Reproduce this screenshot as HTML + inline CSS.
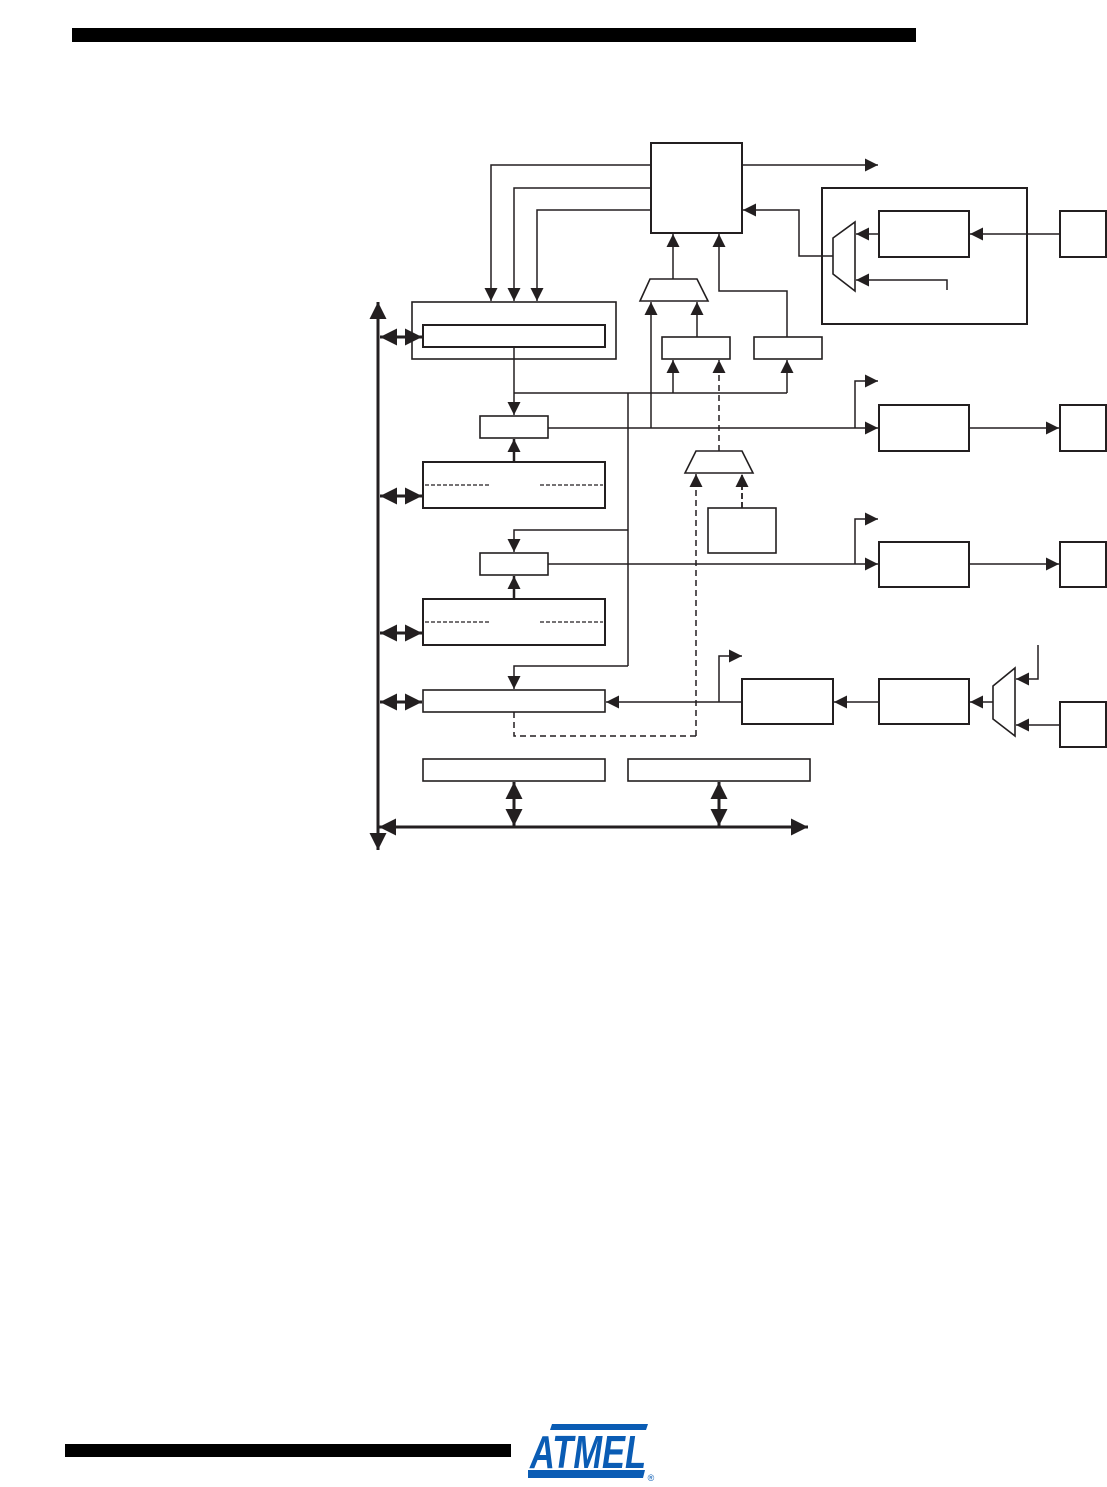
<!DOCTYPE html>
<html><head><meta charset="utf-8"><style>
html,body{margin:0;padding:0;background:#fff;}
svg{display:block;}
</style></head><body>
<svg width="1107" height="1487" viewBox="0 0 1107 1487" xmlns="http://www.w3.org/2000/svg">
<defs>
<marker id="a" viewBox="0 0 10 10" refX="10" refY="5" markerWidth="20" markerHeight="13" markerUnits="userSpaceOnUse" orient="auto-start-reverse"><path d="M0,0L10,5L0,10z" fill="#231f20"/></marker>
<marker id="b" viewBox="0 0 10 10" refX="10" refY="5" markerWidth="24" markerHeight="17" markerUnits="userSpaceOnUse" orient="auto-start-reverse"><path d="M0,0L10,5L0,10z" fill="#231f20"/></marker>
</defs>
<rect x="72" y="28" width="844" height="14" fill="#000"/>
<rect x="65" y="1444" width="446" height="13" fill="#000"/>
<g fill="none" stroke="#231f20" stroke-width="1.5">
<g stroke-width="2">
<rect x="651" y="143" width="91" height="90"/>
<rect x="822" y="188" width="205" height="136"/>
<rect x="879" y="211" width="90" height="46"/>
<rect x="1060" y="211" width="46" height="46"/>
<rect x="423" y="325" width="182" height="22"/>
<rect x="879" y="405" width="90" height="46"/>
<rect x="1060" y="405" width="46" height="46"/>
<rect x="423" y="462" width="182" height="46"/>
<rect x="879" y="542" width="90" height="45"/>
<rect x="1060" y="542" width="46" height="45"/>
<rect x="423" y="599" width="182" height="46"/>
<rect x="742" y="679" width="91" height="45"/>
<rect x="879" y="679" width="90" height="45"/>
<rect x="1060" y="702" width="46" height="45"/>
</g>
<g stroke-width="1.6">
<rect x="412" y="302" width="204" height="57"/>
<rect x="480" y="416" width="68" height="22"/>
<rect x="480" y="553" width="68" height="22"/>
<rect x="662" y="337" width="68" height="22"/>
<rect x="754" y="337" width="68" height="22"/>
<rect x="708" y="508" width="68" height="45"/>
<rect x="423" y="690" width="182" height="22"/>
<rect x="423" y="759" width="182" height="22"/>
<rect x="628" y="759" width="182" height="22"/>
<polygon points="640,301 650,279 697,279 708,301"/>
<polygon points="685,473 696,451 742,451 753,473"/>
<polygon points="833,238 855,222 855,291 833,274"/>
<polygon points="993,686 1015,668 1015,736 993,719"/>
</g>
<g stroke-dasharray="4,2" stroke-width="1.2">
<line x1="425" y1="485" x2="489" y2="485"/><line x1="540" y1="485" x2="603" y2="485"/>
<line x1="425" y1="622" x2="489" y2="622"/><line x1="540" y1="622" x2="603" y2="622"/>
</g>
<polyline points="651,165 491,165 491,301" marker-end="url(#a)"/>
<polyline points="651,188 514,188 514,301" marker-end="url(#a)"/>
<polyline points="651,210 537,210 537,301" marker-end="url(#a)"/>
<line x1="742" y1="165" x2="878" y2="165" marker-end="url(#a)"/>
<polyline points="833,256 799,256 799,210 743,210" marker-end="url(#a)"/>
<line x1="879" y1="234" x2="856" y2="234" marker-end="url(#a)"/>
<polyline points="947,290 947,280 856,280" marker-end="url(#a)"/>
<line x1="1060" y1="234" x2="970" y2="234" marker-end="url(#a)"/>
<line x1="673" y1="279" x2="673" y2="234" marker-end="url(#a)"/>
<polyline points="787,337 787,291 719,291 719,234" marker-end="url(#a)"/>
<line x1="697" y1="337" x2="697" y2="302" marker-end="url(#a)"/>
<line x1="651" y1="428" x2="651" y2="302" marker-end="url(#a)"/>
<line x1="514" y1="393" x2="787" y2="393"/>
<line x1="673" y1="393" x2="673" y2="360" marker-end="url(#a)"/>
<line x1="787" y1="393" x2="787" y2="360" marker-end="url(#a)"/>
<line x1="719" y1="451" x2="719" y2="360" stroke-dasharray="6,4" marker-end="url(#a)"/>
<line x1="514" y1="347" x2="514" y2="415" marker-end="url(#a)"/>
<line x1="628" y1="393" x2="628" y2="666"/>
<line x1="548" y1="428" x2="878" y2="428" marker-end="url(#a)"/>
<polyline points="855,428 855,381 878,381" marker-end="url(#a)"/>
<line x1="969" y1="428" x2="1059" y2="428" marker-end="url(#a)"/>
<line x1="514" y1="462" x2="514" y2="439" stroke-width="2.5" marker-end="url(#a)"/>
<polyline points="696,736 696,474" stroke-dasharray="6,4" marker-end="url(#a)"/>
<line x1="742" y1="508" x2="742" y2="474" stroke-width="1.8" stroke-dasharray="6,3" marker-end="url(#a)"/>
<polyline points="628,530 514,530 514,552" marker-end="url(#a)"/>
<line x1="548" y1="564" x2="878" y2="564" marker-end="url(#a)"/>
<polyline points="855,564 855,519 878,519" marker-end="url(#a)"/>
<line x1="969" y1="564" x2="1059" y2="564" marker-end="url(#a)"/>
<line x1="514" y1="599" x2="514" y2="576" stroke-width="2.5" marker-end="url(#a)"/>
<polyline points="628,666 514,666 514,689" marker-end="url(#a)"/>
<line x1="742" y1="702" x2="606" y2="702" marker-end="url(#a)"/>
<polyline points="719,702 719,656 742,656" marker-end="url(#a)"/>
<polyline points="514,712 514,736 696,736" stroke-dasharray="6,4"/>
<line x1="879" y1="702" x2="834" y2="702" marker-end="url(#a)"/>
<line x1="993" y1="702" x2="970" y2="702" marker-end="url(#a)"/>
<polyline points="1038,645 1038,679 1016,679" marker-end="url(#a)"/>
<line x1="1060" y1="725" x2="1016" y2="725" marker-end="url(#a)"/>
<g stroke-width="3">
<line x1="378" y1="850" x2="378" y2="302" marker-start="url(#b)" marker-end="url(#b)"/>
<line x1="379" y1="827" x2="808" y2="827" marker-start="url(#b)" marker-end="url(#b)"/>
<line x1="380" y1="337" x2="422" y2="337" marker-start="url(#b)" marker-end="url(#b)"/>
<line x1="380" y1="496" x2="422" y2="496" marker-start="url(#b)" marker-end="url(#b)"/>
<line x1="380" y1="633" x2="422" y2="633" marker-start="url(#b)" marker-end="url(#b)"/>
<line x1="380" y1="702" x2="422" y2="702" marker-start="url(#b)" marker-end="url(#b)"/>
<line x1="514" y1="782" x2="514" y2="826" marker-start="url(#b)" marker-end="url(#b)"/>
<line x1="719" y1="782" x2="719" y2="826" marker-start="url(#b)" marker-end="url(#b)"/>
</g>
</g>
<g fill="#0a5cb4">
<polygon points="552,1424 648,1424 646,1430 550,1430"/>
<polygon points="528,1470 645,1470 643,1478 528,1478"/>
</g>
<text x="588" y="1468" text-anchor="middle" font-family="Liberation Sans, sans-serif" font-weight="bold" font-style="italic" font-size="46" fill="#0a5cb4" textLength="116" lengthAdjust="spacingAndGlyphs">ATMEL</text>
<text x="651" y="1481" text-anchor="middle" font-family="Liberation Sans, sans-serif" font-size="9" fill="#0a5cb4">®</text>
</svg>
</body></html>
